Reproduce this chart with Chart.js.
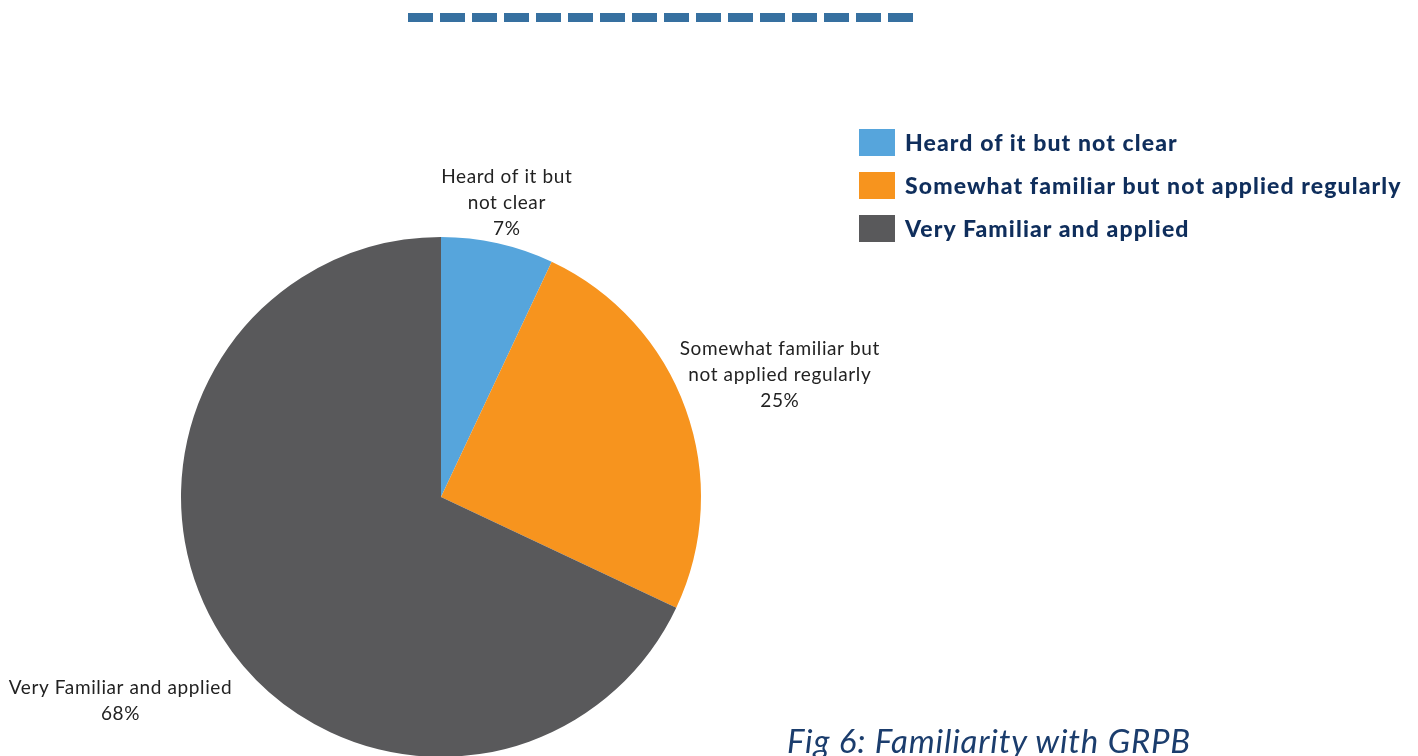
<!DOCTYPE html>
<html>
<head>
<meta charset="utf-8">
<title>Familiarity with GRPB</title>
<script src="https://cdn.jsdelivr.net/npm/chart.js@4/dist/chart.umd.min.js"></script>
<style>
  html, body { margin: 0; padding: 0; background: #fff; overflow: hidden; }
  body { width: 1418px; height: 756px; position: relative; font-family: Lato, "Open Sans", sans-serif; }
  .rule {
    position: absolute; left: 408px; top: 13px; width: 505px; height: 9px;
    background: repeating-linear-gradient(90deg, #3670a0 0 25px, transparent 25px 32px);
  }
  #chart-wrap { position: absolute; left: 0; top: 0; width: 1418px; height: 760px; }
  #legend { position: absolute; left: 859px; top: 128px; }
  .legend-item { display: flex; align-items: center; height: 28px; margin-bottom: 15px; }
  .legend-box { width: 36px; height: 27px; margin-right: 10px; flex: none; }
  .legend-text { font-weight: 900; font-size: 23px; color: #0f2e5c; white-space: nowrap; letter-spacing: 1.1px; }
  .caption {
    position: absolute; left: 787px; top: 720px; font-style: italic; font-size: 33px;
    color: #1b3d6d; white-space: nowrap; font-weight: 400; letter-spacing: 0.8px;
  }
</style>
</head>
<body>
<div class="rule"></div>
<div id="chart-wrap"><canvas id="pieChart"></canvas></div>
<div id="legend"></div>
<div class="caption">Fig 6: Familiarity with GRPB</div>

<script>
const categories = [
  'Heard of it but not clear',
  'Somewhat familiar but not applied regularly',
  'Very Familiar and applied'
];
const labelLines = [
  ['Heard of it but', 'not clear'],
  ['Somewhat familiar but', 'not applied regularly'],
  ['Very Familiar and applied']
];
const shares = [7, 25, 68];
const colors = ['#56a5dc', '#f7941e', '#59595b'];

// how far out each label sits along its slice's middle angle (x radius)
const labelDistance = [1.16, 1.385, 1.46];

const outsideLabels = {
  id: 'outsideLabels',
  afterDatasetsDraw(chart) {
    const ctx = chart.ctx;
    const meta = chart.getDatasetMeta(0);
    ctx.save();
    ctx.font = '19px Lato, "Open Sans", sans-serif';
    ctx.letterSpacing = '0.6px';
    ctx.fillStyle = '#222';
    ctx.textAlign = 'center';
    ctx.textBaseline = 'middle';
    const lineH = 26;
    meta.data.forEach((arc, i) => {
      const mid = (arc.startAngle + arc.endAngle) / 2;
      const r = arc.outerRadius * labelDistance[i];
      const cx = arc.x + Math.cos(mid) * r;
      const cy = arc.y + Math.sin(mid) * r;
      const lines = labelLines[i].concat([shares[i] + '%']);
      const top = cy - (lines.length - 1) * lineH / 2;
      lines.forEach((t, j) => ctx.fillText(t, cx, top + j * lineH));
    });
    ctx.restore();
  }
};

const canvas = document.getElementById('pieChart');
new Chart(canvas, {
  type: 'pie',
  data: {
    labels: categories,
    datasets: [{
      data: shares,
      backgroundColor: colors,
      borderWidth: 0
    }]
  },
  options: {
    responsive: true,
    maintainAspectRatio: false,
    animation: false,
    layout: { padding: { left: 181, top: 237, right: 717, bottom: 3 } },
    plugins: {
      legend: { display: false },
      tooltip: { enabled: false }
    }
  },
  plugins: [outsideLabels]
});

// legend built from the same arrays
document.getElementById('legend').innerHTML = categories.map((c, i) => `
  <div class="legend-item">
    <div class="legend-box" style="background:${colors[i]}"></div>
    <div class="legend-text">${c}</div>
  </div>
`).join('');
</script>
</body>
</html>
